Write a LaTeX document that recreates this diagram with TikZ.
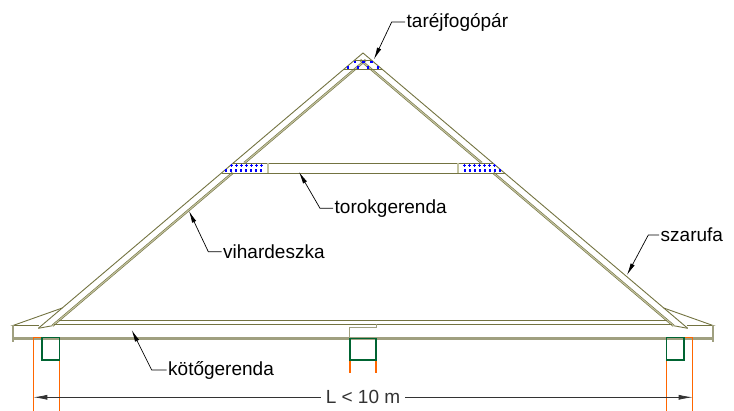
\documentclass[tikz,border=0pt]{standalone}
\usepackage{fontspec}
\setmainfont{Liberation Sans}
\usepackage{xcolor}
\usepackage{tikz}
\usetikzlibrary{arrows.meta}

\definecolor{timber}{RGB}{115,115,65}
\definecolor{timberlight}{RGB}{195,195,160}
\definecolor{beamgray}{RGB}{160,160,128}
\definecolor{wallorange}{RGB}{255,102,0}
\definecolor{plategreen}{RGB}{0,100,50}

\begin{document}
\begin{tikzpicture}[x=1pt, y=-1pt,
        wood/.style={timber, line width=0.9pt},
        woodedge/.style={timber, line width=0.6pt, double=timberlight, double distance=1.1pt},
        hatchdot/.style={blue, line width=1.3pt},
        leader/.style={black, line width=0.7pt, -{Latex[length=12pt,width=4.5pt]}},
        dimline/.style={black!80, line width=0.8pt, {Latex[length=14pt,width=5pt]}-{Latex[length=14pt,width=5pt]}},
        roofnote/.style={anchor=west, inner sep=1.5pt, font=\fontsize{19}{21}\selectfont}]
        \useasboundingbox (0,0) rectangle (734,411);

        % szarufak
        \draw[wood] (38.3,328.3) -- (363,53) -- (687.7,328.3);
        \draw[wood] (38.3,328.3) -- (52.5,325.7);
        \draw[wood] (687.7,328.3) -- (673.5,325.7);
        \draw[woodedge] (365.7,60) -- (244.3,163);
        \draw[woodedge] (232.5,173) -- (52.5,325.7);
        \draw[woodedge] (360.3,60) -- (481.7,163);
        \draw[woodedge] (493.5,173) -- (673.5,325.7);

        % eresz
        \draw[wood] (62.3,308) -- (13,325.5) -- (38.8,325.5);
        \draw[wood] (663.7,308) -- (713,325.5) -- (687.2,325.5);

        %%%

        \draw[wood] (354.7,60) -- (371.3,60);
        \draw[wood] (344.1,69) -- (381.9,69);
        \foreach \x in {355,363.3,371.7}
            \draw[hatchdot] (\x,62) +(-1.4,0) -- +(1.4,0) +(0,-1.4) -- +(0,1.4);
        \foreach \x in {348,358,368,378}
            \draw[hatchdot] (\x,67.7) +(-1.4,0) -- +(1.4,0) +(0,-1.4) -- +(0,1.4);

        %%%

        \draw[wood] (233.3,163) -- (492.7,163);
        \draw[wood] (221.5,173) -- (504.5,173);
        \draw[woodedge] (268,163) -- (268,173);
        \draw[woodedge] (458,163) -- (458,173);
        \foreach \x in {231.7,236.7,...,262}
            \draw[hatchdot] (\x,165.5) +(-1.4,0) -- +(1.4,0) +(0,-1.4) -- +(0,1.4);
        \foreach \x in {226,231,...,262}
            \draw[hatchdot] (\x,170.8) +(-1.4,0) -- +(1.4,0) +(0,-1.4) -- +(0,1.4);
        \foreach \x in {464.3,469.3,...,495}
            \draw[hatchdot] (\x,165.5) +(-1.4,0) -- +(1.4,0) +(0,-1.4) -- +(0,1.4);
        \foreach \x in {465,470,...,501}
            \draw[hatchdot] (\x,170.8) +(-1.4,0) -- +(1.4,0) +(0,-1.4) -- +(0,1.4);

        %%%

        \draw[wood] (58.6,320.5) -- (667.4,320.5);
        \draw[wood] (53.9,324.5) -- (672.1,324.5);
        \draw[beamgray, line width=2.8pt] (13,338.5) -- (713,338.5);
        \draw[beamgray, line width=2.2pt] (13,325) -- (13,342);
        \draw[beamgray, line width=2.2pt] (713,325) -- (713,342);
        \draw[beamgray, line width=0.9pt] (349.3,337.5) -- (349.3,327.3) -- (376.7,327.3) -- (376.7,324.5);

        % falak
        \draw[wallorange, line width=1.3pt] (33.3,411) -- (33.3,337.7) -- (42,337.7);
        \draw[wallorange, line width=1.3pt] (59.3,337.7) -- (59.3,411);
        \draw[wallorange, line width=1.3pt] (692.7,411) -- (692.7,337.7) -- (684,337.7);
        \draw[wallorange, line width=1.3pt] (666.7,337.7) -- (666.7,411);
        \draw[wallorange, line width=1.3pt] (350,360) -- (350,373.3);
        \draw[wallorange, line width=1.3pt] (376,360) -- (376,373.3);
        \draw[plategreen, line width=1.3pt] (42,337.7) rectangle (59.3,360);
        \draw[plategreen, line width=1.3pt] (350,338.3) rectangle (376,360);
        \draw[plategreen, line width=1.3pt] (666.7,337.7) rectangle (684,360);

        %%%

        \coordinate (ridgetip) at (374,59.3);
        \coordinate (collartip) at (299,172);
        \coordinate (bracetip) at (189,211);
        \coordinate (raftertip) at (627,275);
        \coordinate (tietip) at (131.7,330);

        \node[roofnote] (ridgenote) at (405,22) {taréjfogópár};
        \node[roofnote] (collarnote) at (333,208.3) {torokgerenda};
        \node[roofnote] (bracenote) at (221.5,251.7) {vihardeszka};
        \node[roofnote] (rafternote) at (659,235) {szarufa};
        \node[roofnote] (tienote) at (166.5,370) {kötőgerenda};

        \draw[leader] (ridgenote.west) -- (391.7,22) -- (ridgetip);
        \draw[leader] (collarnote.west) -- (320,208.3) -- (collartip);
        \draw[leader] (bracenote.west) -- (208.3,251.7) -- (bracetip);
        \draw[leader] (rafternote.west) -- (648.3,235) -- (raftertip);
        \draw[leader] (tienote.west) -- (151.7,370) -- (tietip);

        %%%

        \coordinate (dimleft) at (33.3,397.3);
        \coordinate (dimright) at (692.7,397.3);
        \draw[dimline] (dimleft) -- (dimright)
            node[midway, fill=white, inner sep=5pt, font=\fontsize{19}{21}\selectfont] (spannote) {L < 10 m};
    \end{tikzpicture}
\end{document}
